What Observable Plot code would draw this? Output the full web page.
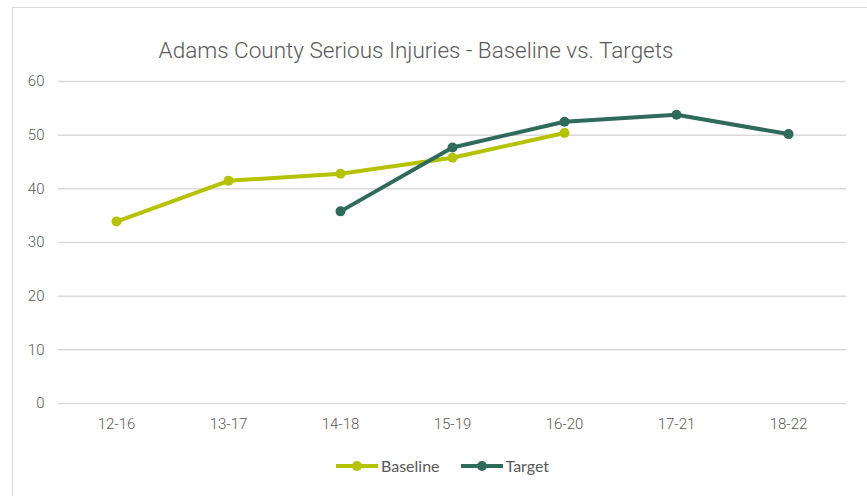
<!DOCTYPE html>
<html>
<head>
<meta charset="utf-8">
<script src="https://cdn.jsdelivr.net/npm/d3@7"></script>
<script src="https://cdn.jsdelivr.net/npm/@observablehq/plot@0.6"></script>
<style>
  html, body { margin: 0; padding: 0; background: #fff; }
  #wrap { position: relative; width: 867px; height: 496px; overflow: hidden; }
  #frame { position: absolute; left: 12px; top: 7px; width: 860px; height: 500px; border: 1.5px solid #dcdcdc; box-sizing: border-box; }
  #title { position: absolute; left: 0; top: 37px; width: 832px; text-align: center; font-family: Roboto, sans-serif; font-weight: 300; font-size: 22.5px; color: #595959; }
  #chart { position: absolute; left: 0; top: 70px; }
  #legend { position: absolute; left: 335px; top: 456px; display: flex; align-items: center; font-family: Lato, "Open Sans", sans-serif; font-size: 16px; color: #595959; }
  .item { display: flex; align-items: center; margin-right: 20px; }
  .item svg { margin-right: 2px; }
</style>
</head>
<body>
<div id="wrap">
  <div id="frame"></div>
  <div id="title">Adams County Serious Injuries - Baseline vs. Targets</div>
  <div id="chart"></div>
  <div id="legend"></div>
</div>
<script>
const periods = ["12-16", "13-17", "14-18", "15-19", "16-20", "17-21", "18-22"];
const baseline = [33.9, 41.5, 42.8, 45.8, 50.4, null, null];
const target = [null, null, 35.8, 47.7, 52.5, 53.8, 50.2];
const seriesNames = ["Baseline", "Target"];
const seriesColors = ["#b5c200", "#2e6b5b"];
const yTicks = [0, 10, 20, 30, 40, 50, 60];

const rows = [];
periods.forEach((p, i) => {
  if (baseline[i] != null) rows.push({period: p, value: baseline[i], series: "Baseline"});
  if (target[i] != null) rows.push({period: p, value: target[i], series: "Target"});
});

const chart = Plot.plot({
  width: 867,
  height: 380,
  marginLeft: 58,
  marginRight: 21,
  marginTop: 11,
  marginBottom: 47,
  style: {fontFamily: "Roboto, sans-serif", fontSize: "15px", fontWeight: 300, color: "#595959", background: "transparent"},
  x: {type: "point", domain: periods, padding: 0.5, label: null, tickSize: 0, tickPadding: 15},
  y: {domain: [0, 60], ticks: yTicks, label: null, tickSize: 0, tickPadding: 14},
  color: {domain: seriesNames, range: seriesColors},
  marks: [
    Plot.gridY(yTicks, {stroke: "#d9d9d9", strokeOpacity: 1, strokeWidth: 1.5}),
    Plot.axisX({tickSize: 0, tickPadding: 15, fill: "#595959"}),
    Plot.axisY({ticks: yTicks, tickSize: 0, tickPadding: 14, fill: "#595959"}),
    Plot.line(rows, {x: "period", y: "value", z: "series", stroke: "series", strokeWidth: 4, strokeLinejoin: "round", strokeLinecap: "round"}),
    Plot.dot(rows, {x: "period", y: "value", fill: "series", r: 5})
  ]
});
document.getElementById("chart").appendChild(chart);

const legend = document.getElementById("legend");
seriesNames.forEach((name, i) => {
  const item = document.createElement("div");
  item.className = "item";
  item.innerHTML = `<svg width="44" height="12"><line x1="1" y1="6" x2="43" y2="6" stroke="${seriesColors[i]}" stroke-width="4"/><circle cx="22" cy="6" r="5" fill="${seriesColors[i]}"/></svg><span>${name}</span>`;
  legend.appendChild(item);
});
</script>
</body>
</html>
